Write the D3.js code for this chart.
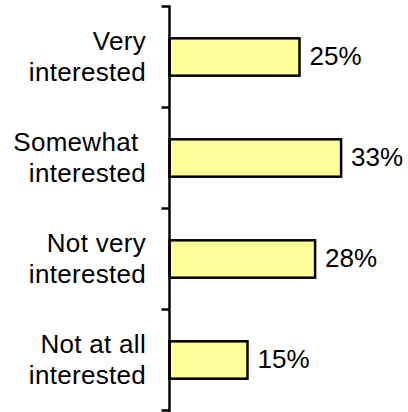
<!DOCTYPE html>
<html>
<head>
<meta charset="utf-8">
<script src="https://cdn.jsdelivr.net/npm/d3@7"></script>
<style>
  html, body { margin: 0; padding: 0; background: #ffffff; }
  svg { display: block; }
  text { font-family: "Liberation Sans", Arial, sans-serif; fill: #000; }
</style>
</head>
<body>
<div id="chart"></div>
<script>
// Survey responses: level of interest
const categories = ["Very interested", "Somewhat interested", "Not very interested", "Not at all interested"];
const categoryLines = [
  ["Very", "interested"],
  ["Somewhat ", "interested"],
  ["Not very", "interested"],
  ["Not at all", "interested"]
];
const values = [25, 33, 28, 15];
const valueLabels = ["25%", "33%", "28%", "15%"];

const width = 408, height = 412;
const axisX = 169.5;

const svg = d3.select("#chart").append("svg")
  .attr("width", width)
  .attr("height", height);

const x = d3.scaleLinear().domain([0, 45]).range([axisX, axisX + 234]);

const y = d3.scaleBand()
  .domain(categories)
  .range([6.5, 410.5])
  .paddingInner(0.63)
  .paddingOuter(0.315);

const rows = categories.map((c, i) => ({ cat: c, value: values[i], label: valueLabels[i], lines: categoryLines[i] }));

// Bars
svg.append("g").selectAll("rect")
  .data(rows)
  .join("rect")
  .attr("x", x(0))
  .attr("y", d => y(d.cat))
  .attr("width", d => x(d.value) - x(0))
  .attr("height", y.bandwidth())
  .attr("fill", "#FFFF99")
  .attr("stroke", "#000")
  .attr("stroke-width", 2.5);

// Category axis: vertical line with ticks at band boundaries
const bounds = categories.map(c => y(c) - y.step() * y.paddingInner() / 2);
bounds.push(y.range()[1]);

const axis = svg.append("g");
axis.append("line")
  .attr("x1", axisX).attr("x2", axisX)
  .attr("y1", y.range()[0] - 1.25).attr("y2", y.range()[1] + 1.25)
  .attr("stroke", "#000").attr("stroke-width", 2.5);
axis.selectAll("line.tick")
  .data(bounds)
  .join("line")
  .attr("class", "tick")
  .attr("x1", axisX - 8).attr("x2", axisX)
  .attr("y1", d => d).attr("y2", d => d)
  .attr("stroke", "#000").attr("stroke-width", 2.5);

// Category labels (two lines, right-aligned)
const labels = svg.append("g").selectAll("text.cat")
  .data(rows)
  .join("text")
  .attr("class", "cat")
  .attr("text-anchor", "end")
  .attr("font-size", 26)
  .attr("letter-spacing", 0.3)
  .style("white-space", "pre");
labels.each(function(d) {
  const c = y(d.cat) + y.bandwidth() / 2;
  const t = d3.select(this);
  d.lines.forEach((line, j) => {
    t.append("tspan")
      .attr("x", 146)
      .attr("y", c + (j === 0 ? -7 : 23.5))
      .text(line);
  });
});

// Value labels
svg.append("g").selectAll("text.val")
  .data(rows)
  .join("text")
  .attr("class", "val")
  .attr("x", d => x(d.value) + 10)
  .attr("y", d => y(d.cat) + y.bandwidth() / 2 + 7.5)
  .attr("font-size", 26)
  .text(d => d.label);
</script>
</body>
</html>
